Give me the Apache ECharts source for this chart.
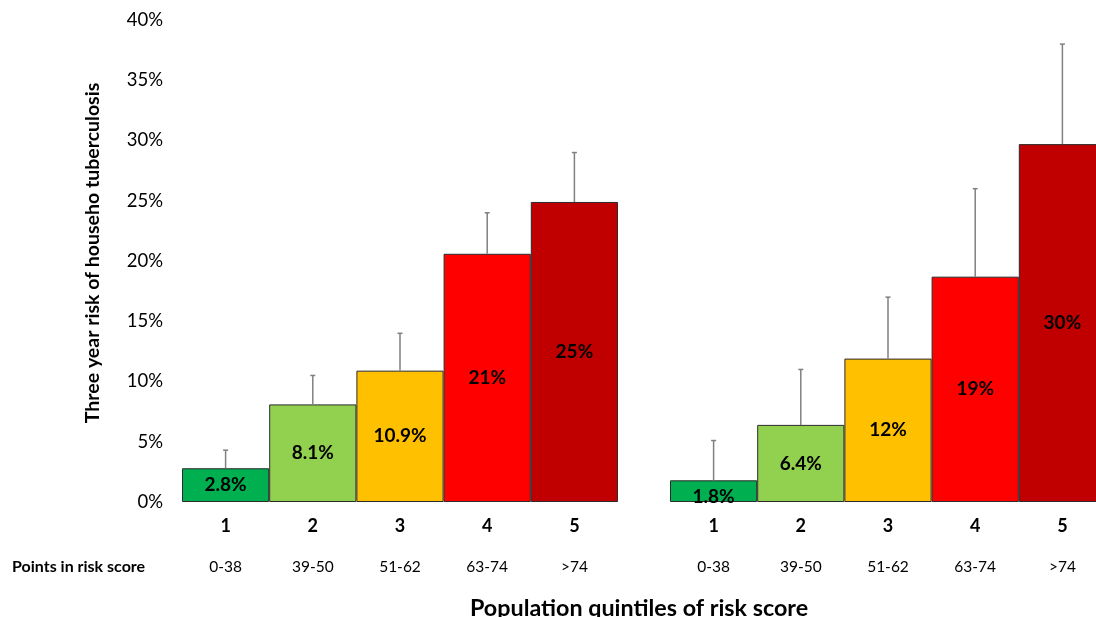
<!DOCTYPE html>
<html>
<head>
<meta charset="utf-8">
<script src="https://cdn.jsdelivr.net/npm/echarts@6/dist/echarts.min.js"></script>
<style>
html,body{margin:0;padding:0;background:#fff;}
#chart{width:1096px;height:617px;}
</style>
</head>
<body>
<div id="chart"></div>
<script>
// ---- data ----
var quintiles = ['1', '2', '3', '4', '5'];
var scoreRanges = ['0-38', '39-50', '51-62', '63-74', '>74'];
var leftRisk = [2.8, 8.1, 10.9, 20.6, 24.9];
var leftUpper = [4.3, 10.5, 14.0, 24.0, 29.0];
var leftLabels = ['2.8%', '8.1%', '10.9%', '21%', '25%'];
var rightRisk = [1.8, 6.4, 11.9, 18.7, 29.7];
var rightUpper = [5.1, 11.0, 17.0, 26.0, 38.0];
var rightLabels = ['1.8%', '6.4%', '12%', '19%', '30%'];
var yMin = 0, yMax = 40, yStep = 5;

// ---- styles ----
var barColors = ['#00b050', '#92d050', '#ffc000', '#ff0000', '#c00000'];
var FONT = 'Lato, "Open Sans", sans-serif';

var chart = echarts.init(document.getElementById('chart'));

function makeBars(values, labels, gridIdx, firstLabelOffset) {
  return {
    type: 'bar',
    xAxisIndex: gridIdx * 2,
    yAxisIndex: gridIdx,
    barCategoryGap: '0%',
    data: values.map(function (v, i) {
      var item = {
        value: v,
        itemStyle: { color: barColors[i], borderColor: '#2b2b2b', borderWidth: 1 },
        label: { formatter: labels[i] }
      };
      if (i === 0 && firstLabelOffset) item.label.offset = firstLabelOffset;
      return item;
    }),
    label: {
      show: true, position: 'inside', color: '#000',
      fontFamily: FONT, fontWeight: 'bold', fontSize: 19
    },
    z: 2
  };
}

function makeErrors(values, uppers, gridIdx) {
  return {
    type: 'custom',
    xAxisIndex: gridIdx * 2,
    yAxisIndex: gridIdx,
    data: values.map(function (v, i) { return [i, v, uppers[i]]; }),
    renderItem: function (params, api) {
      var base = api.coord([api.value(0), api.value(1)]);
      var top = api.coord([api.value(0), api.value(2)]);
      var style = { stroke: '#808080', lineWidth: 1.5 };
      return {
        type: 'group',
        children: [
          { type: 'line', shape: { x1: base[0], y1: base[1], x2: top[0], y2: top[1] }, style: style },
          { type: 'line', shape: { x1: top[0] - 2.5, y1: top[1], x2: top[0] + 2.5, y2: top[1] }, style: style }
        ]
      };
    },
    z: 5,
    silent: true
  };
}

function catAxis(gridIdx) {
  return {
    type: 'category', gridIndex: gridIdx, data: quintiles,
    axisLine: { show: false }, axisTick: { show: false },
    axisLabel: { color: '#000', fontFamily: FONT, fontWeight: 'bold', fontSize: 18, margin: 15 }
  };
}
function rangeAxis(gridIdx) {
  return {
    type: 'category', gridIndex: gridIdx, data: scoreRanges, position: 'bottom',
    axisLine: { show: false }, axisTick: { show: false },
    axisLabel: { color: '#000', fontFamily: FONT, fontSize: 15.5, margin: 57 }
  };
}

var option = {
  backgroundColor: '#fff',
  animation: false,
  grid: [
    { left: 182, top: 20, width: 436, height: 482, outerBoundsMode: 'none', containLabel: false },
    { left: 670, top: 20, width: 436, height: 482, outerBoundsMode: 'none', containLabel: false }
  ],
  xAxis: [catAxis(0), rangeAxis(0), catAxis(1), rangeAxis(1)],
  yAxis: [
    {
      type: 'value', gridIndex: 0, min: yMin, max: yMax, interval: yStep,
      axisLine: { show: false }, axisTick: { show: false }, splitLine: { show: false },
      axisLabel: { formatter: '{value}%', color: '#000', fontFamily: FONT, fontSize: 18.5, margin: 19 }
    },
    {
      type: 'value', gridIndex: 1, min: yMin, max: yMax, interval: yStep,
      axisLine: { show: false }, axisTick: { show: false }, splitLine: { show: false },
      axisLabel: { show: false }
    }
  ],
  graphic: [
    {
      type: 'text', x: 93, y: 253, rotation: Math.PI / 2,
      style: { text: 'Three year risk of househo tuberculosis', fill: '#000', font: 'bold 19.5px ' + FONT, align: 'center', verticalAlign: 'middle' }
    },
    {
      type: 'text', left: 12, top: 559,
      style: { text: 'Points in risk score', fill: '#000', font: 'bold 16px ' + FONT }
    },
    {
      type: 'text', left: 470, top: 597,
      style: { text: 'Population quintiles of risk score', fill: '#000', font: 'bold 23.3px ' + FONT }
    }
  ],
  series: [
    makeBars(leftRisk, leftLabels, 0, null),
    makeErrors(leftRisk, leftUpper, 0),
    makeBars(rightRisk, rightLabels, 1, [0, 6]),
    makeErrors(rightRisk, rightUpper, 1)
  ]
};
chart.setOption(option);
</script>
</body>
</html>
